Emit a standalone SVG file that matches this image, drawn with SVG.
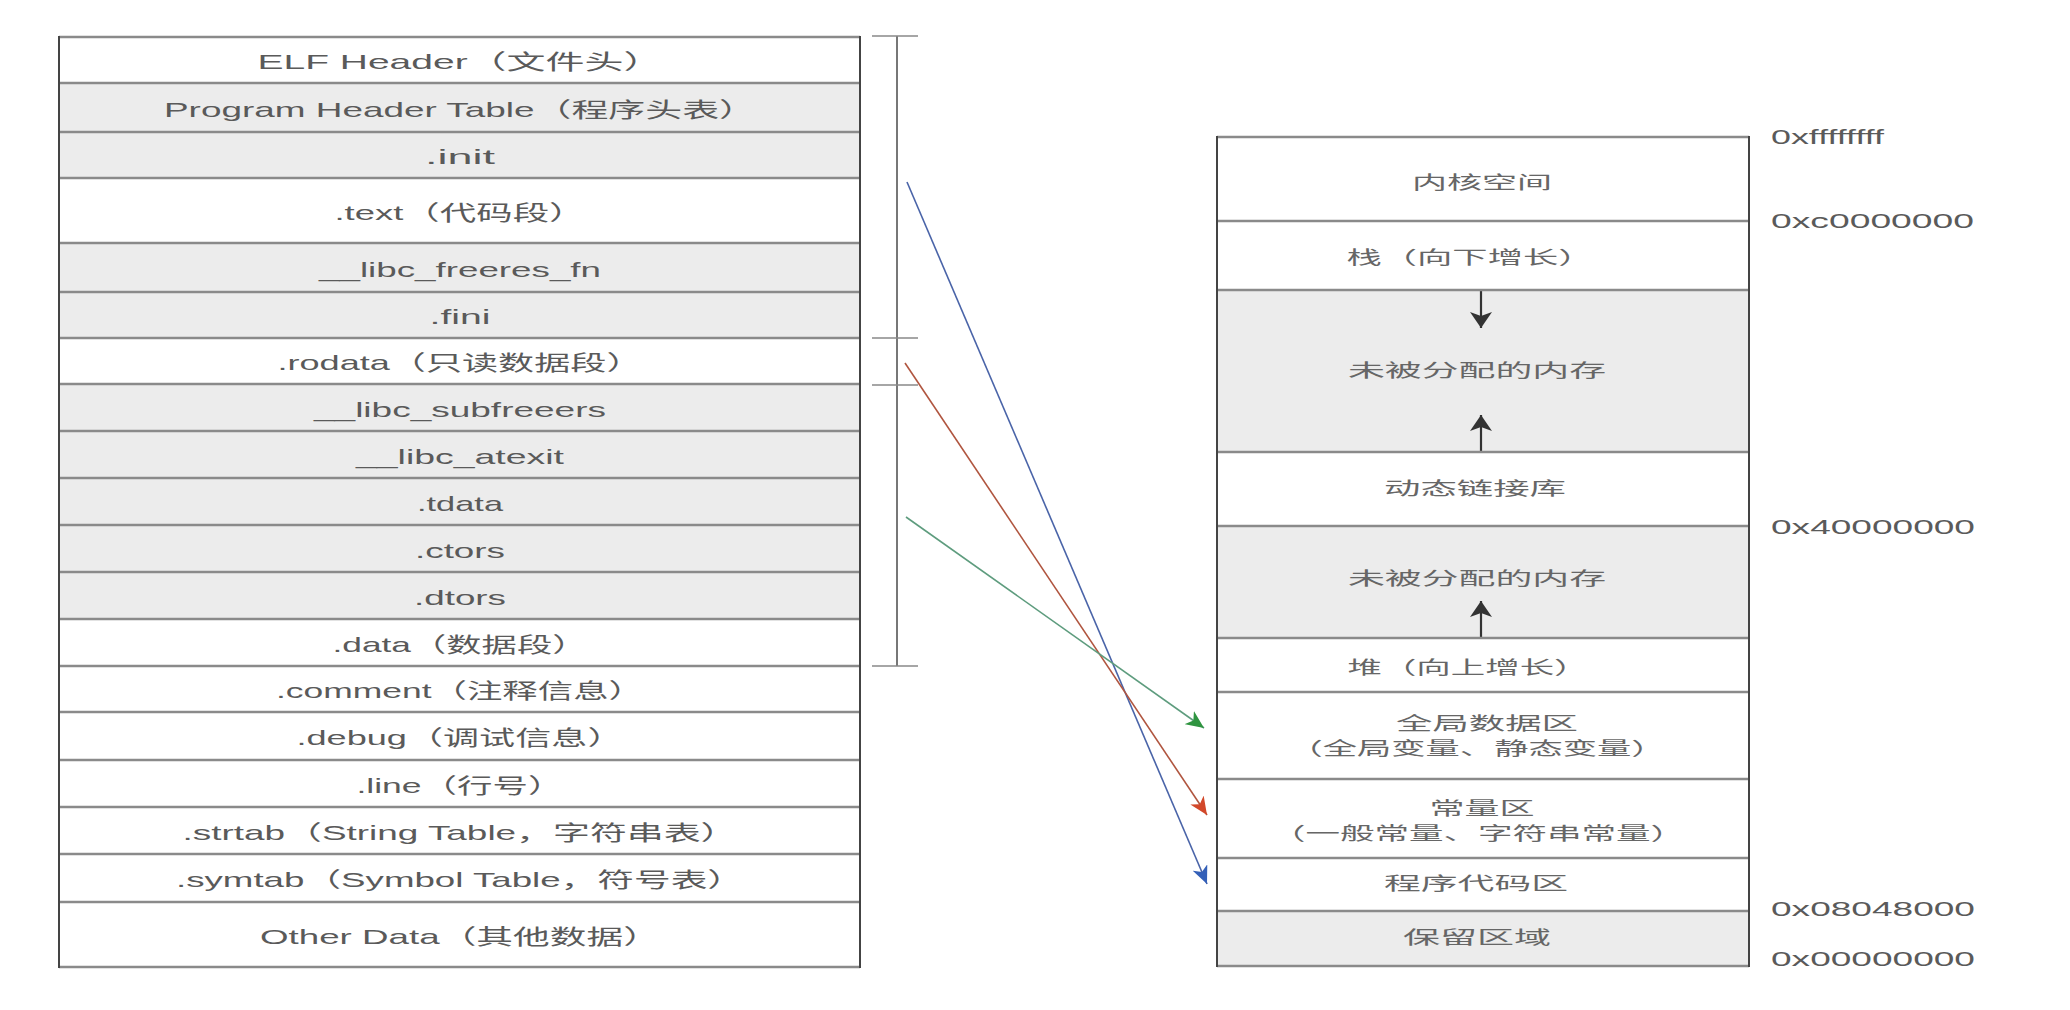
<svg xmlns="http://www.w3.org/2000/svg" width="2070" height="1010" viewBox="0 0 2070 1010">
<style>
.bg{fill:#ffffff}
.w{fill:#ffffff}
.g{fill:#ececec}
.div{stroke:#8a8a8a;stroke-width:2.5}
.side{stroke:#444;stroke-width:2;fill:none}
.lt{font-family:"Liberation Sans","Noto Sans CJK SC",sans-serif;font-size:21px;fill:#5a5a5a;text-anchor:middle}
.rt{font-family:"Noto Sans CJK SC",sans-serif;font-size:18px;fill:#666;text-anchor:middle}
.ad{font-family:"Liberation Sans",sans-serif;font-size:21px;fill:#5a5a5a}
.br{stroke:#555;stroke-width:1.6;fill:none}
.tk{stroke:#888;stroke-width:1.6}
.ga{stroke:#333;stroke-width:2.2;fill:none}
</style>
<defs>
<marker id="mb" markerUnits="userSpaceOnUse" markerWidth="20" markerHeight="16" refX="18" refY="8" orient="auto"><path d="M0,0 L18,8 L0,16 L5,8 z" fill="#3460b8"/></marker>
<marker id="mr" markerUnits="userSpaceOnUse" markerWidth="20" markerHeight="16" refX="18" refY="8" orient="auto"><path d="M0,0 L18,8 L0,16 L5,8 z" fill="#d2482a"/></marker>
<marker id="mg" markerUnits="userSpaceOnUse" markerWidth="20" markerHeight="16" refX="18" refY="8" orient="auto"><path d="M0,0 L18,8 L0,16 L5,8 z" fill="#2f9440"/></marker>
<marker id="mk" markerUnits="userSpaceOnUse" markerWidth="20" markerHeight="22" refX="16" refY="11" orient="auto"><path d="M0,0 L16,11 L0,22 L4,11 z" fill="#333"/></marker>
</defs>
<rect class="bg" x="0" y="0" width="2070" height="1010"/>

<g id="elf-table">
<g id="r-elf"><rect class="w" x="59" y="37" width="801" height="46"/><text class="lt" x="460" y="69" textLength="405" lengthAdjust="spacingAndGlyphs">ELF  Header（文件头）</text></g>
<g id="r-pht"><rect class="g" x="59" y="83" width="801" height="49"/><text class="lt" x="460" y="116.5" textLength="592" lengthAdjust="spacingAndGlyphs">Program Header Table（程序头表）</text></g>
<g id="r-init"><rect class="g" x="59" y="132" width="801" height="46"/><text class="lt" x="460" y="164" textLength="70" lengthAdjust="spacingAndGlyphs">.init</text></g>
<g id="r-text"><rect class="w" x="59" y="178" width="801" height="65"/><text class="lt" x="460" y="219.5" textLength="251" lengthAdjust="spacingAndGlyphs">.text（代码段）</text></g>
<g id="r-freeres"><rect class="g" x="59" y="243" width="801" height="49"/><text class="lt" x="460" y="276.5" textLength="282" lengthAdjust="spacingAndGlyphs">__libc_freeres_fn</text></g>
<g id="r-fini"><rect class="g" x="59" y="292" width="801" height="46"/><text class="lt" x="460" y="324" textLength="61" lengthAdjust="spacingAndGlyphs">.fini</text></g>
<g id="r-rodata"><rect class="w" x="59" y="338" width="801" height="46"/><text class="lt" x="460" y="370" textLength="365" lengthAdjust="spacingAndGlyphs">.rodata（只读数据段）</text></g>
<g id="r-subfreeres"><rect class="g" x="59" y="384" width="801" height="47"/><text class="lt" x="460" y="416.5" textLength="292" lengthAdjust="spacingAndGlyphs">__libc_subfreeers</text></g>
<g id="r-atexit"><rect class="g" x="59" y="431" width="801" height="47"/><text class="lt" x="460" y="463.5" textLength="208" lengthAdjust="spacingAndGlyphs">__libc_atexit</text></g>
<g id="r-tdata"><rect class="g" x="59" y="478" width="801" height="47"/><text class="lt" x="460" y="510.5" textLength="86" lengthAdjust="spacingAndGlyphs">.tdata</text></g>
<g id="r-ctors"><rect class="g" x="59" y="525" width="801" height="47"/><text class="lt" x="460" y="557.5" textLength="90" lengthAdjust="spacingAndGlyphs">.ctors</text></g>
<g id="r-dtors"><rect class="g" x="59" y="572" width="801" height="47"/><text class="lt" x="460" y="604.5" textLength="92" lengthAdjust="spacingAndGlyphs">.dtors</text></g>
<g id="r-data"><rect class="w" x="59" y="619" width="801" height="47"/><text class="lt" x="460" y="651.5" textLength="255" lengthAdjust="spacingAndGlyphs">.data（数据段）</text></g>
<g id="r-comment"><rect class="w" x="59" y="666" width="801" height="46"/><text class="lt" x="460" y="698" textLength="368" lengthAdjust="spacingAndGlyphs">.comment（注释信息）</text></g>
<g id="r-debug"><rect class="w" x="59" y="712" width="801" height="48"/><text class="lt" x="460" y="745" textLength="327" lengthAdjust="spacingAndGlyphs">.debug（调试信息）</text></g>
<g id="r-line"><rect class="w" x="59" y="760" width="801" height="47"/><text class="lt" x="460" y="792.5" textLength="207" lengthAdjust="spacingAndGlyphs">.line（行号）</text></g>
<g id="r-strtab"><rect class="w" x="59" y="807" width="801" height="47"/><text class="lt" x="460" y="839.5" textLength="555" lengthAdjust="spacingAndGlyphs">.strtab（String Table，字符串表）</text></g>
<g id="r-symtab"><rect class="w" x="59" y="854" width="801" height="48"/><text class="lt" x="460" y="887" textLength="568" lengthAdjust="spacingAndGlyphs">.symtab（Symbol Table，符号表）</text></g>
<g id="r-other"><rect class="w" x="59" y="902" width="801" height="65"/><text class="lt" x="460" y="943.5" textLength="400" lengthAdjust="spacingAndGlyphs">Other Data（其他数据）</text></g>
<g id="elf-lines">
<line class="div" x1="59" y1="37" x2="860" y2="37"/>
<line class="div" x1="59" y1="83" x2="860" y2="83"/>
<line class="div" x1="59" y1="132" x2="860" y2="132"/>
<line class="div" x1="59" y1="178" x2="860" y2="178"/>
<line class="div" x1="59" y1="243" x2="860" y2="243"/>
<line class="div" x1="59" y1="292" x2="860" y2="292"/>
<line class="div" x1="59" y1="338" x2="860" y2="338"/>
<line class="div" x1="59" y1="384" x2="860" y2="384"/>
<line class="div" x1="59" y1="431" x2="860" y2="431"/>
<line class="div" x1="59" y1="478" x2="860" y2="478"/>
<line class="div" x1="59" y1="525" x2="860" y2="525"/>
<line class="div" x1="59" y1="572" x2="860" y2="572"/>
<line class="div" x1="59" y1="619" x2="860" y2="619"/>
<line class="div" x1="59" y1="666" x2="860" y2="666"/>
<line class="div" x1="59" y1="712" x2="860" y2="712"/>
<line class="div" x1="59" y1="760" x2="860" y2="760"/>
<line class="div" x1="59" y1="807" x2="860" y2="807"/>
<line class="div" x1="59" y1="854" x2="860" y2="854"/>
<line class="div" x1="59" y1="902" x2="860" y2="902"/>
<line class="div" x1="59" y1="967" x2="860" y2="967"/>
<line class="side" x1="59" y1="36" x2="59" y2="968"/>
<line class="side" x1="860" y1="36" x2="860" y2="968"/>
</g>
</g>

<g id="bracket">
<line class="br" x1="897" y1="36" x2="897" y2="666"/>
<line class="tk" x1="872" y1="36" x2="918" y2="36"/>
<line class="tk" x1="872" y1="338" x2="918" y2="338"/>
<line class="tk" x1="872" y1="385" x2="918" y2="385"/>
<line class="tk" x1="872" y1="666" x2="918" y2="666"/>
</g>

<g id="mem-table">
<g id="m-kernel"><rect class="w" x="1217" y="137" width="532" height="84"/><text class="rt" x="1482" y="189" textLength="140" lengthAdjust="spacingAndGlyphs">内核空间</text></g>
<g id="m-stack"><rect class="w" x="1217" y="221" width="532" height="69"/><text class="rt" x="1470" y="264" textLength="247" lengthAdjust="spacingAndGlyphs">栈（向下增长）</text></g>
<g id="m-free1"><rect class="g" x="1217" y="290" width="532" height="162"/><text class="rt" x="1477" y="377" textLength="258" lengthAdjust="spacingAndGlyphs">未被分配的内存</text>
<line class="ga" x1="1481" y1="290" x2="1481" y2="328" marker-end="url(#mk)"/>
<line class="ga" x1="1481" y1="452" x2="1481" y2="415" marker-end="url(#mk)"/></g>
<g id="m-dll"><rect class="w" x="1217" y="452" width="532" height="74"/><text class="rt" x="1475" y="495" textLength="182" lengthAdjust="spacingAndGlyphs">动态链接库</text></g>
<g id="m-free2"><rect class="g" x="1217" y="526" width="532" height="112"/><text class="rt" x="1477" y="585" textLength="258" lengthAdjust="spacingAndGlyphs">未被分配的内存</text>
<line class="ga" x1="1481" y1="638" x2="1481" y2="601" marker-end="url(#mk)"/></g>
<g id="m-heap"><rect class="w" x="1217" y="638" width="532" height="54"/><text class="rt" x="1468" y="674" textLength="241" lengthAdjust="spacingAndGlyphs">堆（向上增长）</text></g>
<g id="m-global"><rect class="w" x="1217" y="692" width="532" height="87"/><text class="rt" x="1487" y="730" textLength="182" lengthAdjust="spacingAndGlyphs">全局数据区</text><text class="rt" x="1477" y="755" textLength="377" lengthAdjust="spacingAndGlyphs">（全局变量、静态变量）</text></g>
<g id="m-const"><rect class="w" x="1217" y="779" width="532" height="79"/><text class="rt" x="1482" y="815" textLength="105" lengthAdjust="spacingAndGlyphs">常量区</text><text class="rt" x="1478" y="840" textLength="414" lengthAdjust="spacingAndGlyphs">（一般常量、字符串常量）</text></g>
<g id="m-code"><rect class="w" x="1217" y="858" width="532" height="53"/><text class="rt" x="1476" y="890" textLength="184" lengthAdjust="spacingAndGlyphs">程序代码区</text></g>
<g id="m-reserved"><rect class="g" x="1217" y="911" width="532" height="55"/><text class="rt" x="1477" y="944" textLength="148" lengthAdjust="spacingAndGlyphs">保留区域</text></g>
<g id="mem-lines">
<line class="div" x1="1217" y1="137" x2="1749" y2="137"/>
<line class="div" x1="1217" y1="221" x2="1749" y2="221"/>
<line class="div" x1="1217" y1="290" x2="1749" y2="290"/>
<line class="div" x1="1217" y1="452" x2="1749" y2="452"/>
<line class="div" x1="1217" y1="526" x2="1749" y2="526"/>
<line class="div" x1="1217" y1="638" x2="1749" y2="638"/>
<line class="div" x1="1217" y1="692" x2="1749" y2="692"/>
<line class="div" x1="1217" y1="779" x2="1749" y2="779"/>
<line class="div" x1="1217" y1="858" x2="1749" y2="858"/>
<line class="div" x1="1217" y1="911" x2="1749" y2="911"/>
<line class="div" x1="1217" y1="966" x2="1749" y2="966"/>
<line class="side" x1="1217" y1="136" x2="1217" y2="967"/>
<line class="side" x1="1749" y1="136" x2="1749" y2="967"/>
</g>
</g>

<g id="addresses">
<text class="ad" x="1771" y="144" textLength="113" lengthAdjust="spacingAndGlyphs">0xffffffff</text>
<text class="ad" x="1771" y="228" textLength="203" lengthAdjust="spacingAndGlyphs">0xc0000000</text>
<text class="ad" x="1771" y="534" textLength="204" lengthAdjust="spacingAndGlyphs">0x40000000</text>
<text class="ad" x="1771" y="916" textLength="204" lengthAdjust="spacingAndGlyphs">0x08048000</text>
<text class="ad" x="1771" y="966" textLength="204" lengthAdjust="spacingAndGlyphs">0x00000000</text>
</g>

<g id="connectors" fill="none" stroke-width="1.6">
<line id="c-text" x1="907" y1="182" x2="1207" y2="884" stroke="#4a64a8" marker-end="url(#mb)"/>
<line id="c-rodata" x1="905" y1="363" x2="1207" y2="815" stroke="#b0553f" marker-end="url(#mr)"/>
<line id="c-data" x1="906" y1="517" x2="1204" y2="728" stroke="#5e9c7e" marker-end="url(#mg)"/>
</g>
</svg>
